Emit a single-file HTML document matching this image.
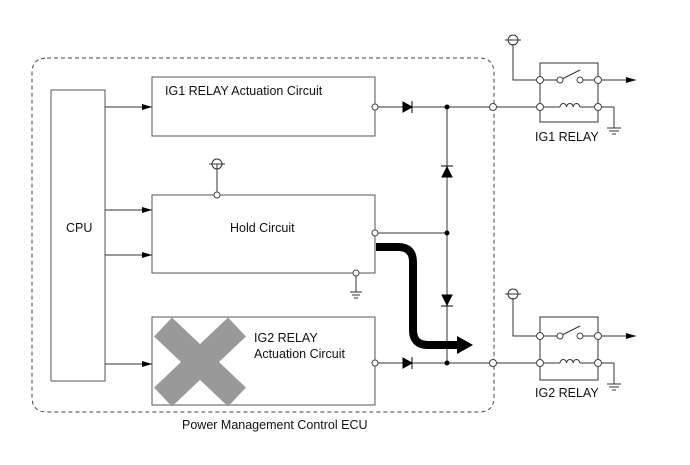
<!DOCTYPE html>
<html><head><style>body{margin:0;background:#fff}svg{display:block}text{font-family:"Liberation Sans",Arial,sans-serif;font-size:12.5px;fill:#111}</style></head>
<body>
<svg width="690" height="465" viewBox="0 0 690 465" xmlns="http://www.w3.org/2000/svg">
<defs><marker id="ah" markerWidth="10" markerHeight="8" refX="10" refY="4" orient="auto" markerUnits="userSpaceOnUse"><path d="M0,1 L10,4 L0,7z" fill="#000"/></marker></defs>
<g fill="none" stroke="#555" stroke-width="1">
<path d="M47,58 H479 Q494,58 494,73 V397 Q494,412 479,412 H47 Q32,412 32,397 V73 Q32,58 47,58z" stroke="#444" stroke-dasharray="4,3"/>
<rect x="51" y="90" width="54" height="291"/>
<rect x="152" y="77" width="223" height="59"/>
<rect x="152" y="195" width="223" height="78"/>
<rect x="152" y="317" width="223" height="88"/>
</g>
<g stroke="#999" stroke-width="26">
<line x1="163" y1="327" x2="237" y2="397"/><line x1="237" y1="327" x2="163" y2="397"/>
</g>
<g stroke="#333" stroke-width="1" fill="none">
<line x1="105" y1="107" x2="152" y2="107" marker-end="url(#ah)"/>
<line x1="105" y1="210" x2="152" y2="210" marker-end="url(#ah)"/>
<line x1="105" y1="255" x2="152" y2="255" marker-end="url(#ah)"/>
<line x1="105" y1="364" x2="152" y2="364" marker-end="url(#ah)"/>
<line x1="375" y1="107" x2="540" y2="107"/>
<line x1="375" y1="233" x2="447" y2="233"/>
<line x1="375" y1="363" x2="540" y2="363"/>
<line x1="447" y1="107" x2="447" y2="363"/>
<line x1="217" y1="164" x2="217" y2="195"/>
<line x1="356" y1="273" x2="356" y2="292"/>
<line x1="350" y1="292" x2="362" y2="292"/><line x1="352" y1="295" x2="360" y2="295"/><line x1="354" y1="298" x2="358" y2="298"/>
<line x1="209" y1="164" x2="225" y2="164"/>
<rect x="540" y="63" width="58" height="59"/>
<rect x="540" y="317" width="58" height="63"/>
<path d="M513,44 V80 H540 M513,298 V336 H540"/>
<line x1="540" y1="80" x2="560" y2="80"/><line x1="580" y1="80" x2="598" y2="80"/>
<line x1="540" y1="336" x2="560" y2="336"/><line x1="580" y1="336" x2="598" y2="336"/>
<line x1="560" y1="80" x2="580" y2="70"/><line x1="560" y1="336" x2="580" y2="326"/>
<line x1="598" y1="80" x2="636" y2="80" marker-end="url(#ah)"/>
<line x1="598" y1="336" x2="636" y2="336" marker-end="url(#ah)"/>
<line x1="540" y1="107" x2="560" y2="107"/><line x1="580" y1="107" x2="614" y2="107"/>
<line x1="540" y1="363" x2="560" y2="363"/><line x1="580" y1="363" x2="614" y2="363"/>
<path d="M560,107 a3.3,3.5 0 0 1 6.6,0 a3.3,3.5 0 0 1 6.6,0 a3.3,3.5 0 0 1 6.6,0"/>
<path d="M560,363 a3.3,3.5 0 0 1 6.6,0 a3.3,3.5 0 0 1 6.6,0 a3.3,3.5 0 0 1 6.6,0"/>
<path d="M614,107 V128 M607,128 H621 M609,131 H619 M612,134 H616"/>
<path d="M614,363 V384 M607,384 H621 M609,387 H619 M612,390 H616"/>
<line x1="505" y1="40" x2="521" y2="40"/><line x1="505" y1="294" x2="521" y2="294"/>
</g>
<g fill="none" stroke="#333">
<circle cx="217" cy="164" r="5"/><circle cx="513" cy="40" r="5"/><circle cx="513" cy="294" r="5"/>
</g>
<g fill="#000" stroke="#000">
<path d="M403,102 L412,107 L403,112z"/><line x1="412" y1="101" x2="412" y2="113"/>
<path d="M403,358 L412,363 L403,368z"/><line x1="412" y1="357" x2="412" y2="369"/>
<path d="M442,177 L447,167 L452,177z"/><line x1="441" y1="166" x2="453" y2="166"/>
<path d="M442,295 L447,305 L452,295z"/><line x1="441" y1="306" x2="453" y2="306"/>
<circle cx="447" cy="107" r="2"/><circle cx="447" cy="233" r="2"/><circle cx="447" cy="363" r="2"/>
</g>
<g fill="#fff" stroke="#444">
<circle cx="375" cy="107" r="3"/><circle cx="375" cy="233" r="3"/><circle cx="375" cy="363" r="3"/>
<circle cx="217" cy="195" r="3"/><circle cx="356" cy="273" r="3"/>
<circle cx="493" cy="107" r="3.5"/><circle cx="493" cy="363" r="3.5"/>
<circle cx="540" cy="80" r="3.5"/><circle cx="598" cy="80" r="3.5"/><circle cx="540" cy="107" r="3.5"/><circle cx="598" cy="107" r="3.5"/>
<circle cx="540" cy="336" r="3.5"/><circle cx="598" cy="336" r="3.5"/><circle cx="540" cy="363" r="3.5"/><circle cx="598" cy="363" r="3.5"/>
<circle cx="560" cy="80" r="3"/><circle cx="580" cy="80" r="3"/><circle cx="560" cy="336" r="3"/><circle cx="580" cy="336" r="3"/>
</g>
<path d="M376,247 H398 Q413,247 413,262 V330 Q413,345 428,345 H459" fill="none" stroke="#000" stroke-width="8"/>
<path d="M457,336 L473,345 L457,354z" fill="#000"/>
<text x="165" y="95">IG1 RELAY Actuation Circuit</text>
<text x="66" y="232">CPU</text>
<text x="230" y="232">Hold Circuit</text>
<text x="254" y="342">IG2 RELAY</text>
<text x="254" y="358">Actuation Circuit</text>
<text x="182" y="429">Power Management Control ECU</text>
<text x="535" y="141">IG1 RELAY</text>
<text x="535" y="397">IG2 RELAY</text>
</svg>
</body></html>
